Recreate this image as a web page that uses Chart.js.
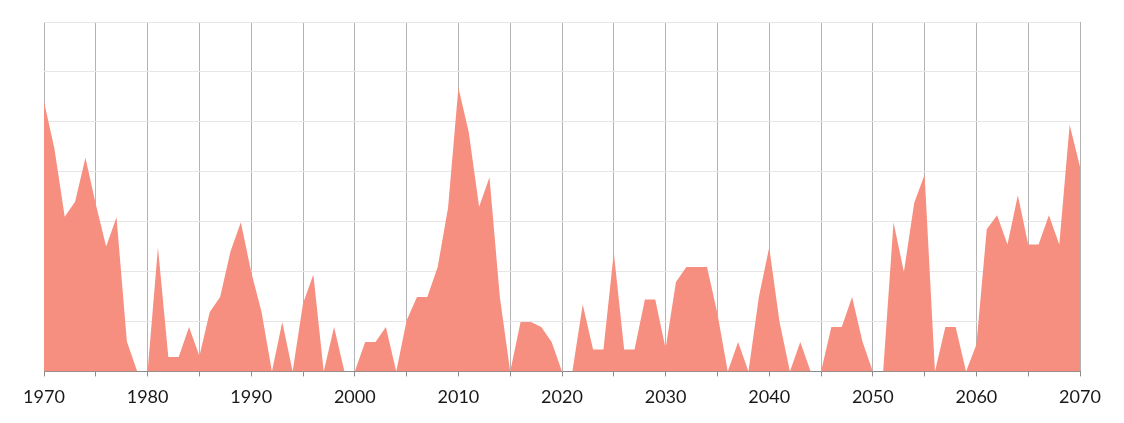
<!DOCTYPE html>
<html>
<head>
<meta charset="utf-8">
<script src="https://cdn.jsdelivr.net/npm/chart.js@4"></script>
<style>
  html,body{margin:0;padding:0;background:#fff;}
  #wrap{width:1124px;height:423px;position:relative;}
</style>
</head>
<body>
<div id="wrap"><canvas id="c"></canvas></div>
<script>
// Data (one per year 1970..2070)
const startYear = 1970;
const endYear = 2070;
const years = Array.from({length: endYear - startYear + 1}, (_, i) => startYear + i);

const v1970s = [54, 44.7, 31, 34, 42.8, 33.5, 25, 30.9, 6, 0];
const v1980s = [0, 24.8, 2.9, 2.9, 8.9, 3.1, 11.9, 14.9, 24, 29.9];
const v1990s = [19.9, 11.9, 0, 9.9, 0, 13.6, 19.4, 0, 8.9, 0];
const v2000s = [0, 5.9, 5.9, 8.9, 0, 10.2, 14.9, 14.9, 20.9, 32.8];
const v2010s = [56.9, 47.9, 33, 38.9, 14.9, 0, 9.9, 9.9, 8.9, 5.9];
const v2020s = [0, 0, 13.4, 4.4, 4.4, 23.8, 4.4, 4.4, 14.4, 14.4];
const v2030s = [4.6, 17.9, 20.9, 20.9, 20.9, 11.6, 0, 5.9, 0, 14.9];
const v2040s = [24.8, 9.9, 0, 5.9, 0, 0, 8.9, 8.9, 14.9, 6];
const v2050s = [0, 0, 29.9, 19.9, 33.8, 39.4, 0, 8.9, 8.9, 0];
const v2060s = [5.4, 28.5, 31.3, 25.4, 35.3, 25.4, 25.4, 31.3, 25.4, 49.4];
const v2070s = [41];

const values = [].concat(v1970s, v1980s, v1990s, v2000s, v2010s, v2020s, v2030s, v2040s, v2050s, v2060s, v2070s);

const points = years.map((y, i) => ({x: y, y: values[i]}));

new Chart(document.getElementById('c').getContext('2d'), {
  type: 'line',
  data: {
    datasets: [{
      data: points,
      fill: 'origin',
      backgroundColor: '#f68f80',
      borderColor: '#f68f80',
      borderWidth: 0,
      pointRadius: 0,
      tension: 0
    }]
  },
  options: {
    responsive: true,
    maintainAspectRatio: false,
    animation: false,
    layout: { padding: { left: 44, right: 44, top: 22, bottom: 5 } },
    plugins: { legend: { display: false }, tooltip: { enabled: false } },
    scales: {
      x: {
        type: 'linear',
        min: startYear, max: endYear,
        grid: { color: '#b4b4b4', lineWidth: 1, tickLength: 5, tickColor: '#8c8c8c' },
        border: { display: true, color: '#8c8c8c' },
        ticks: {
          stepSize: 5,
          autoSkip: false,
          maxRotation: 0,
          padding: 10,
          color: '#1a1a1a',
          font: { family: 'Lato', size: 18 },
          callback: (v) => (v % 10 === 0 ? String(v) : '')
        }
      },
      y: {
        min: 0, max: 70,
        grid: { color: '#e6e6e6', lineWidth: 1, drawTicks: false },
        border: { display: false },
        ticks: { display: false, stepSize: 10 }
      }
    }
  }
});
</script>
</body>
</html>
